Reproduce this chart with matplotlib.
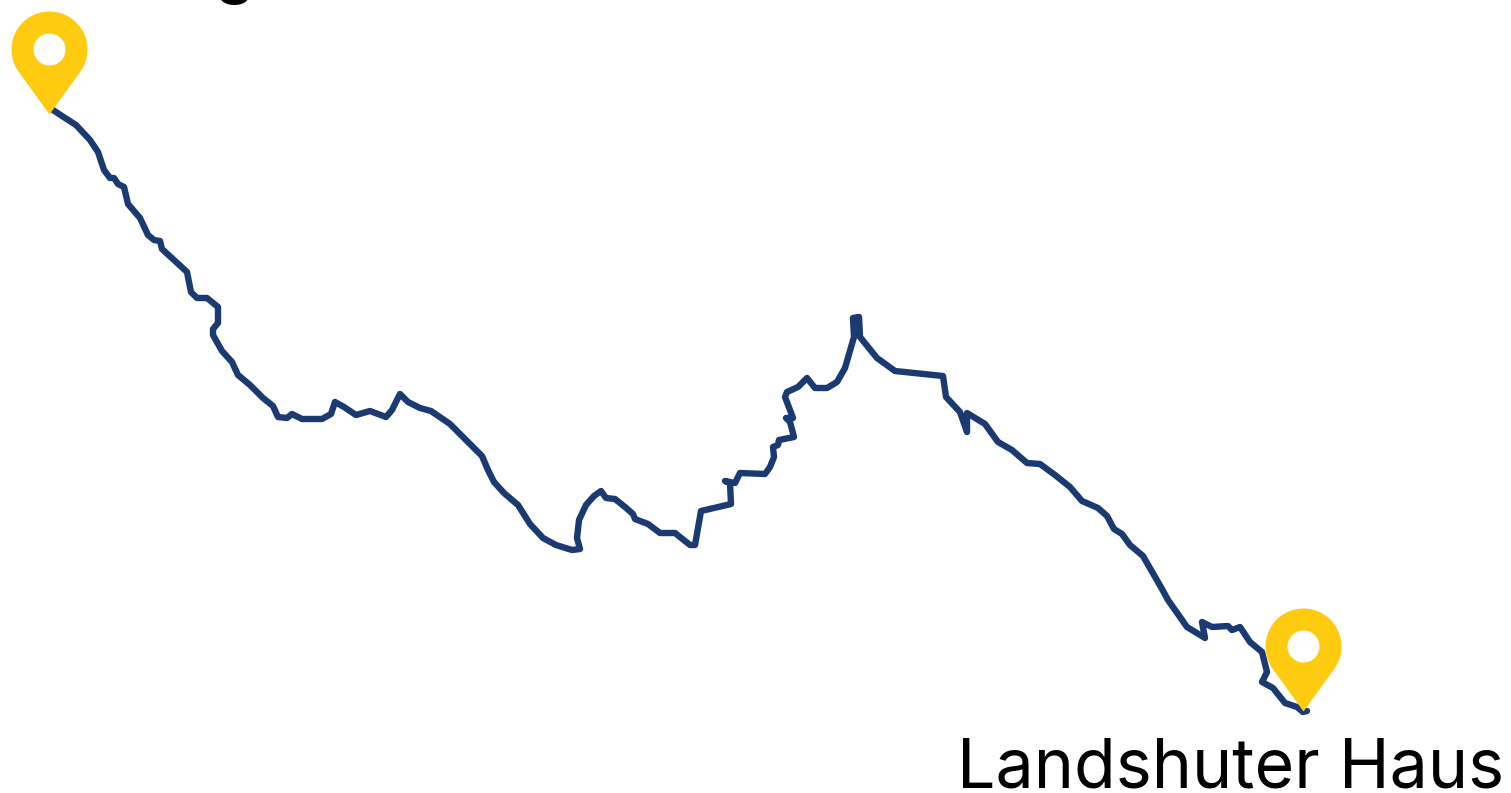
import numpy as np
import matplotlib
matplotlib.use("Agg")
import matplotlib.pyplot as plt
from matplotlib.path import Path

route_x = [50,62,76,90,98,104,110,114,118,124,128,140,148,154,160,162,175,187,191,197,207,218,218,213,213,222,232,238,250,263,273,278,287,292,302,322,331,335,344,356,370,386,392,400,408,420,431,450,470,482,488,494,504,518,530,543,556,572,580,577,579,586,594,601,606,615,625,633,635,648,660,675,690,695,701,731,730,725,735,740,765,770,774,773,778,779,794,790,786,793,790,785,787,798,807,815,827,837,845,854,853,859,860,877,895,943,946,960,967,967,985,998,1012,1027,1040,1055,1070,1082,1098,1107,1114,1122,1130,1143,1162,1168,1187,1205,1202,1212,1228,1232,1240,1250,1262,1267,1262,1273,1285,1297,1303,1307]
route_y = [108,116,125,140,152,170,178,178,184,187,204,218,235,240,241,249,261,272,292,298,298,307,323,329,335,351,362,375,385,398,406,417,418,414,419,419,414,402,407,415,411,417,410,394,402,408,411,424,444,456,470,482,493,505,524,538,545,550,549,538,520,505,496,491,498,499,507,514,519,524,533,533,545,545,511,504,483,481,483,473,474,467,457,447,445,440,437,422,418,418,410,397,392,387,378,388,388,382,368,337,318,317,337,358,371,376,397,412,432,413,424,442,450,463,464,475,487,501,508,516,529,534,545,556,589,600,627,638,622,627,626,630,627,642,652,672,682,688,703,707,712,711]
pin_x = [49, 1303]
pin_y = [114, 711]
place_labels = ["g", "Landshuter Haus"]

LINE = "#1C3A72"
PIN = "#FFCB11"

def pin_marker():
    r, d, h = 38.0, 65.0, 16.0
    a = np.arccos(r / d)
    t = np.linspace(-np.pi / 2 + a, 3 * np.pi / 2 - a, 90)
    outer = np.column_stack([r * np.cos(t), d + r * np.sin(t)])
    outer = np.vstack([[0, 0], outer, [0, 0]])
    s = np.linspace(2 * np.pi, 0, 60)
    inner = np.column_stack([h * np.cos(s), d + h * np.sin(s)])
    verts = np.vstack([outer, inner])
    codes = ([Path.MOVETO] + [Path.LINETO] * (len(outer) - 1)
             + [Path.MOVETO] + [Path.LINETO] * (len(inner) - 1))
    return Path(verts, codes)

fig = plt.figure(figsize=(15.11, 7.93), dpi=100, facecolor="white")
ax = fig.add_axes([0, 0, 1, 1])
ax.set_xlim(0, 1511)
ax.set_ylim(793, 0)
ax.axis("off")

ax.plot(route_x, route_y, color=LINE, lw=4.6, solid_joinstyle="round",
        solid_capstyle="round", zorder=2)

# marker is scaled by its largest extent (103 px = 74.16 pt); markers draw in screen space
ax.plot(pin_x, pin_y, ls="none", marker=pin_marker(), ms=148.3, mfc=PIN, mec="none", zorder=3)

ax.text(234, -10, place_labels[0], fontsize=49, family="Inter", weight="normal",
        ha="center", va="baseline", color="black", clip_on=True)
ax.text(1504, 787, place_labels[1], fontsize=49, family="Inter", weight="normal",
        ha="right", va="baseline", color="black")

fig.savefig("out.png", dpi=100, facecolor="white")
